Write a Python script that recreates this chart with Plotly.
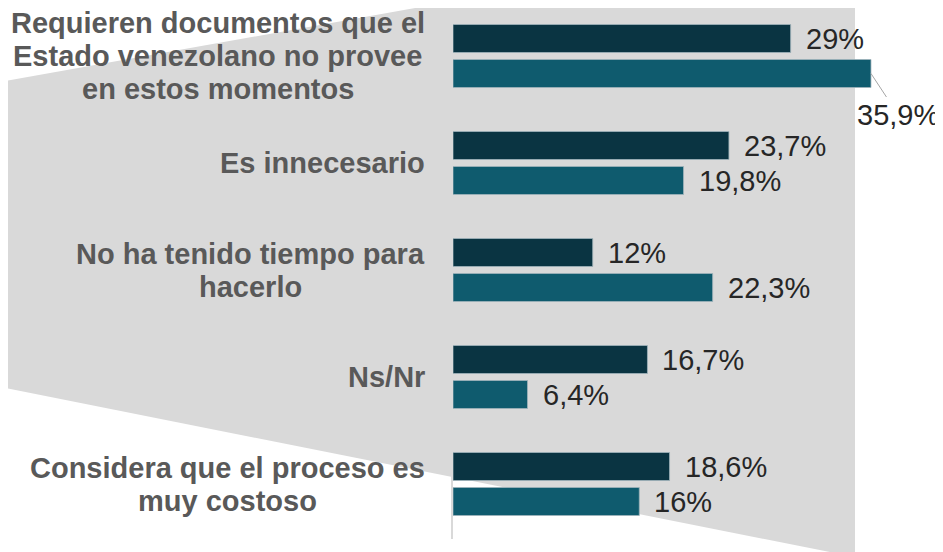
import plotly.graph_objects as go

categorias = [
    "Requieren documentos que el<br>Estado venezolano no provee<br>en estos momentos",
    "Es innecesario",
    "No ha tenido tiempo para<br>hacerlo",
    "Ns/Nr",
    "Considera que el proceso es<br>muy costoso",
]
serie_1 = [29, 23.7, 12, 16.7, 18.6]
serie_2 = [35.9, 19.8, 22.3, 6.4, 16]

# the page adds an 8px body margin, so the figure is drawn 8px smaller
OFF = 8
W, H = 943 - OFF, 552 - OFF
L, R, T, B = 445, 1, 0, 13
PW, PH = W - L - R, H - T - B
UNIT = 107  # px per category

FONT = "Arial, Liberation Sans, sans-serif"
LBL_SIZE = 29
LINE_H = 33

# Arial bold advance widths (1/1000 em) to centre wrapped label lines
ARIAL_B = {" ": 278, "a": 556, "c": 556, "d": 611, "e": 556, "h": 611, "i": 278,
           "l": 278, "m": 889, "n": 611, "o": 611, "p": 611, "q": 611, "r": 389,
           "s": 556, "t": 333, "u": 611, "v": 556, "y": 556, "z": 500, "E": 667,
           "N": 722, "R": 722, "C": 722, "/": 278}


def text_w(s, size):
    return sum(ARIAL_B.get(ch, 556) for ch in s) * size / 1000


def pct(v):
    return f"{v:g}".replace(".", ",") + "%"


def to_paper(px, py):
    fx, fy = px - OFF, py - OFF
    return (fx - L) / PW, (H - B - fy) / PH


fig = go.Figure()
fig.add_trace(go.Bar(
    y=categorias, x=serie_1, orientation="h", name="Serie 1",
    marker=dict(color="#0a3442", line=dict(color="#9fb4bb", width=0.8)),
))
fig.add_trace(go.Bar(
    y=categorias, x=serie_2, orientation="h", name="Serie 2",
    marker=dict(color="#0f5b6e", line=dict(color="#9fb4bb", width=0.8)),
))

# fondo gris (trapecio decorativo)
pts = [to_paper(*p) for p in [(0, 82), (460, 0), (855, 0), (855, 557), (0, 387)]]
path = "M " + " L ".join(f"{x},{y}" for x, y in pts) + " Z"
fig.add_shape(type="path", path=path, xref="paper", yref="paper",
              fillcolor="#d9d9d9", line=dict(width=0), layer="below")

font_val = dict(family=FONT, size=29, color="#262626")
font_lbl = dict(family=FONT, size=LBL_SIZE, color="#595959")

for cat, v1, v2 in zip(categorias, serie_1, serie_2):
    lines = cat.split("<br>")
    n = len(lines)
    maxw = max(text_w(s, LBL_SIZE) for s in lines)
    for k, s in enumerate(lines):
        fig.add_annotation(x=0, y=cat, text=f"<b>{s}</b>", showarrow=False,
                           xanchor="center", xshift=-28 - maxw / 2,
                           yshift=((n - 1) / 2 - k) * LINE_H, font=font_lbl)
    fig.add_annotation(x=v1, y=cat, text=pct(v1), showarrow=False,
                       xanchor="left", xshift=13, yshift=17.5, font=font_val)
    if v2 == max(serie_2):
        fig.add_annotation(x=v2, y=cat, text=pct(v2), showarrow=True,
                           arrowhead=0, arrowwidth=1, arrowcolor="#a6a6a6",
                           ax=27, ay=41, standoff=0, yshift=-17.5, font=font_val)
    else:
        fig.add_annotation(x=v2, y=cat, text=pct(v2), showarrow=False,
                           xanchor="left", xshift=13, yshift=-17.5, font=font_val)

top = -48 / UNIT
fig.update_layout(
    width=W, height=H,
    margin=dict(l=L, r=R, t=T, b=B),
    paper_bgcolor="white", plot_bgcolor="rgba(0,0,0,0)",
    barmode="group", bargap=0.346, bargroupgap=0.2,
    showlegend=False,
)
fig.update_xaxes(range=[0, 42], visible=False)
fig.update_yaxes(range=[top + PH / UNIT, top], showticklabels=False, showgrid=False,
                 showline=True, linecolor="#d9d9d9", linewidth=1.5, ticks="")

fig.write_html("out.html")
